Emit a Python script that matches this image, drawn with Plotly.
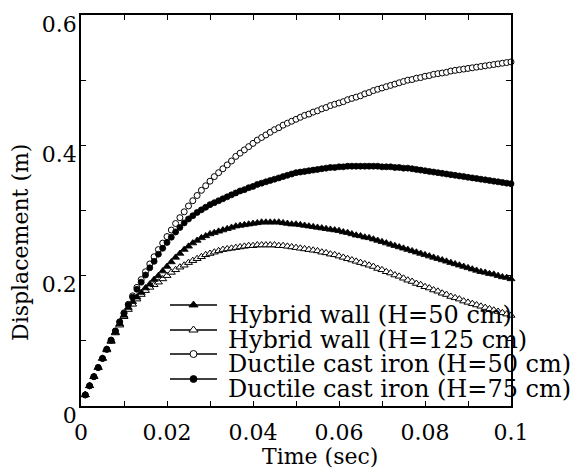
import plotly.graph_objects as go

# ---------------- data ----------------
time_sec = [0.001, 0.002, 0.003, 0.004, 0.005, 0.006, 0.007, 0.008, 0.009, 0.010,
            0.011, 0.012, 0.013, 0.014, 0.015, 0.016, 0.017, 0.018, 0.019, 0.020,
            0.021, 0.022, 0.023, 0.024, 0.025, 0.026, 0.027, 0.028, 0.029, 0.030,
            0.031, 0.032, 0.033, 0.034, 0.035, 0.036, 0.037, 0.038, 0.039, 0.040,
            0.041, 0.042, 0.043, 0.044, 0.045, 0.046, 0.047, 0.048, 0.049, 0.050,
            0.051, 0.052, 0.053, 0.054, 0.055, 0.056, 0.057, 0.058, 0.059, 0.060,
            0.061, 0.062, 0.063, 0.064, 0.065, 0.066, 0.067, 0.068, 0.069, 0.070,
            0.071, 0.072, 0.073, 0.074, 0.075, 0.076, 0.077, 0.078, 0.079, 0.080,
            0.081, 0.082, 0.083, 0.084, 0.085, 0.086, 0.087, 0.088, 0.089, 0.090,
            0.091, 0.092, 0.093, 0.094, 0.095, 0.096, 0.097, 0.098, 0.099, 0.100]

hybrid_50 = [0.017, 0.031, 0.045, 0.059, 0.073, 0.087, 0.100, 0.113, 0.126, 0.139,
             0.151, 0.160, 0.167, 0.174, 0.181, 0.187, 0.194, 0.200, 0.207, 0.214,
             0.221, 0.228, 0.234, 0.240, 0.245, 0.250, 0.254, 0.258, 0.261, 0.264,
             0.266, 0.268, 0.270, 0.272, 0.274, 0.276, 0.277, 0.278, 0.279, 0.280,
             0.281, 0.282, 0.282, 0.282, 0.282, 0.282, 0.281, 0.280, 0.279, 0.279,
             0.278, 0.277, 0.276, 0.275, 0.274, 0.273, 0.272, 0.271, 0.270, 0.269,
             0.267, 0.266, 0.264, 0.262, 0.261, 0.259, 0.258, 0.256, 0.254, 0.252,
             0.250, 0.248, 0.246, 0.244, 0.242, 0.240, 0.238, 0.236, 0.234, 0.232,
             0.230, 0.228, 0.226, 0.224, 0.222, 0.220, 0.218, 0.216, 0.214, 0.212,
             0.210, 0.208, 0.206, 0.205, 0.203, 0.202, 0.200, 0.198, 0.197, 0.195]

hybrid_125 = [0.017, 0.031, 0.045, 0.059, 0.073, 0.086, 0.099, 0.112, 0.124, 0.137,
              0.148, 0.156, 0.164, 0.171, 0.177, 0.182, 0.186, 0.190, 0.195, 0.200,
              0.205, 0.209, 0.213, 0.216, 0.220, 0.223, 0.226, 0.229, 0.232, 0.234,
              0.236, 0.238, 0.240, 0.241, 0.242, 0.243, 0.244, 0.245, 0.246, 0.246,
              0.247, 0.247, 0.247, 0.247, 0.247, 0.246, 0.246, 0.245, 0.244, 0.243,
              0.242, 0.241, 0.240, 0.239, 0.238, 0.236, 0.235, 0.233, 0.232, 0.230,
              0.228, 0.226, 0.224, 0.222, 0.220, 0.218, 0.216, 0.214, 0.211, 0.209,
              0.206, 0.204, 0.201, 0.199, 0.196, 0.193, 0.191, 0.188, 0.186, 0.183,
              0.181, 0.178, 0.176, 0.173, 0.171, 0.168, 0.166, 0.164, 0.161, 0.159,
              0.157, 0.155, 0.153, 0.151, 0.149, 0.147, 0.145, 0.143, 0.141, 0.139]

ductile_50 = [0.017, 0.031, 0.045, 0.059, 0.073, 0.087, 0.101, 0.115, 0.129, 0.143,
              0.156, 0.169, 0.182, 0.194, 0.206, 0.218, 0.229, 0.240, 0.250, 0.260,
              0.270, 0.280, 0.289, 0.298, 0.307, 0.315, 0.323, 0.331, 0.338, 0.345,
              0.352, 0.358, 0.364, 0.370, 0.376, 0.383, 0.388, 0.393, 0.398, 0.403,
              0.408, 0.412, 0.416, 0.420, 0.424, 0.427, 0.431, 0.434, 0.437, 0.440,
              0.443, 0.446, 0.448, 0.451, 0.453, 0.456, 0.458, 0.461, 0.463, 0.465,
              0.467, 0.470, 0.472, 0.474, 0.476, 0.479, 0.481, 0.484, 0.486, 0.488,
              0.490, 0.492, 0.494, 0.496, 0.498, 0.500, 0.501, 0.503, 0.504, 0.506,
              0.507, 0.509, 0.510, 0.511, 0.512, 0.514, 0.515, 0.516, 0.517, 0.518,
              0.519, 0.520, 0.521, 0.522, 0.523, 0.524, 0.525, 0.526, 0.527, 0.528]

ductile_75 = [0.017, 0.031, 0.045, 0.059, 0.073, 0.087, 0.101, 0.115, 0.129, 0.142,
              0.155, 0.167, 0.179, 0.190, 0.201, 0.212, 0.222, 0.233, 0.242, 0.251,
              0.259, 0.267, 0.274, 0.281, 0.287, 0.292, 0.297, 0.301, 0.305, 0.309,
              0.312, 0.315, 0.318, 0.321, 0.324, 0.327, 0.330, 0.332, 0.335, 0.337,
              0.340, 0.342, 0.344, 0.346, 0.348, 0.350, 0.352, 0.354, 0.356, 0.358,
              0.359, 0.360, 0.361, 0.362, 0.363, 0.364, 0.365, 0.366, 0.366, 0.367,
              0.367, 0.368, 0.368, 0.368, 0.368, 0.368, 0.368, 0.368, 0.368, 0.367,
              0.367, 0.367, 0.366, 0.366, 0.365, 0.365, 0.364, 0.363, 0.362, 0.361,
              0.360, 0.359, 0.358, 0.357, 0.356, 0.355, 0.354, 0.353, 0.352, 0.351,
              0.350, 0.349, 0.348, 0.347, 0.346, 0.345, 0.344, 0.343, 0.342, 0.341]

series_names = ["Hybrid wall (H=50 cm)", "Hybrid wall (H=125 cm)",
                "Ductile cast iron (H=50 cm)", "Ductile cast iron (H=75 cm)"]
x_title = "Time (sec)"
y_title = "Displacement (m)"
x_ticks = [0, 0.02, 0.04, 0.06, 0.08, 0.1]
y_ticks = [0, 0.2, 0.4, 0.6]
x_tick_labels = ["0", "0.02", "0.04", "0.06", "0.08", "0.1"]
y_tick_labels = ["0", "0.2", "0.4", "0.6"]

# ---------------- styles ----------------
FONT = "DejaVu Serif"
styles = {
    series_names[0]: dict(symbol="triangle-up", color="black", size=7, lw=0.8, lc="black"),
    series_names[1]: dict(symbol="triangle-up", color="white", size=7, lw=1, lc="black"),
    series_names[2]: dict(symbol="circle", color="white", size=6, lw=1, lc="black"),
    series_names[3]: dict(symbol="circle", color="black", size=6, lw=0.8, lc="black"),
}
series_values = {
    series_names[0]: hybrid_50,
    series_names[1]: hybrid_125,
    series_names[2]: ductile_50,
    series_names[3]: ductile_75,
}

fig = go.Figure()
draw_order = [series_names[1], series_names[0], series_names[2], series_names[3]]
for name in draw_order:
    st = styles[name]
    fig.add_trace(go.Scatter(
        x=time_sec, y=series_values[name], mode="markers", name=name,
        showlegend=False, cliponaxis=False,
        marker=dict(symbol=st["symbol"], size=st["size"], color=st["color"],
                    line=dict(color=st["lc"], width=st["lw"])),
    ))

# ---------------- hand-made legend on a pixel-scaled overlay axis ----------------
L, R, T, B = 81, 59, 15, 65
W, H = 570, 471
plot_l, plot_r, plot_t, plot_b = L, W - R, T, H - B
legend_rows = [305, 330, 354, 379]
seg_x0, seg_x1, text_x = 170, 217, 226
for name, yy in zip(series_names, legend_rows):
    st = styles[name]
    fig.add_trace(go.Scatter(
        x=[seg_x0, seg_x1], y=[yy, yy], mode="lines", xaxis="x2", yaxis="y2",
        showlegend=False, hoverinfo="skip", cliponaxis=False,
        line=dict(color="black", width=1.3),
    ))
    fig.add_trace(go.Scatter(
        x=[(seg_x0 + seg_x1) / 2], y=[yy], mode="markers", xaxis="x2", yaxis="y2",
        showlegend=False, hoverinfo="skip", cliponaxis=False,
        marker=dict(symbol=st["symbol"], size=st["size"] + 1, color=st["color"],
                    line=dict(color=st["lc"], width=st["lw"])),
    ))
    fig.add_annotation(
        x=(text_x - plot_l) / (plot_r - plot_l), y=(plot_b - (yy + 10)) / (plot_b - plot_t),
        xref="paper", yref="paper", text=name, showarrow=False,
        xanchor="left", yanchor="middle", font=dict(family=FONT, size=24, color="black"),
    )

# axis titles as annotations (placed like the reference)
fig.add_annotation(
    x=(320 - plot_l) / (plot_r - plot_l), y=(plot_b - 457) / (plot_b - plot_t),
    xref="paper", yref="paper", text=x_title, showarrow=False,
    xanchor="center", yanchor="middle", font=dict(family=FONT, size=22, color="black"),
)
fig.add_annotation(
    x=(20 - plot_l) / (plot_r - plot_l), y=(plot_b - 243) / (plot_b - plot_t),
    xref="paper", yref="paper", text=y_title, showarrow=False, textangle=-90,
    xanchor="center", yanchor="middle", font=dict(family=FONT, size=22, color="black"),
)

axis_common = dict(
    showline=True, linecolor="black", linewidth=1.5, mirror="ticks",
    ticks="inside", ticklen=5, tickwidth=1, tickcolor="black",
    showgrid=False, zeroline=False, tickmode="array",
    tickfont=dict(family=FONT, size=22, color="black"),
)
fig.update_layout(
    width=W, height=H,
    margin=dict(l=L, r=R, t=T, b=B),
    paper_bgcolor="white", plot_bgcolor="white",
    showlegend=False,
    xaxis=dict(range=[0, 0.1], tickvals=x_ticks, ticktext=x_tick_labels,
               minor=dict(tickmode="linear", tick0=0, dtick=0.01, ticks="inside", ticklen=5,
                          tickwidth=1, tickcolor="black", showgrid=False),
               ticklabelstandoff=6, **axis_common),
    yaxis=dict(range=[0, 0.6], tickvals=y_ticks, ticktext=y_tick_labels,
               minor=dict(tickmode="linear", tick0=0, dtick=0.1, ticks="inside", ticklen=5,
                          tickwidth=1, tickcolor="black", showgrid=False),
               ticklabelposition="outside bottom", ticklabelstandoff=-2, ticklabelshift=-7,
               **axis_common),
    xaxis2=dict(overlaying="x", range=[plot_l, plot_r], visible=False, fixedrange=True),
    yaxis2=dict(overlaying="y", range=[plot_b, plot_t], visible=False, fixedrange=True),
)

fig.write_html("out.html", config={"displayModeBar": False},
               post_script="document.body.style.margin='0';document.body.style.overflow='hidden';")
